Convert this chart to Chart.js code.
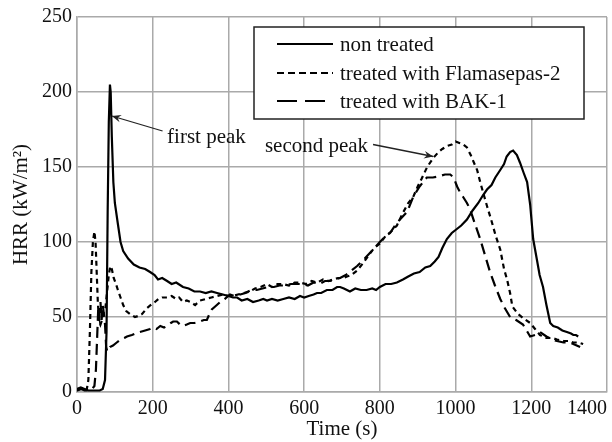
<!DOCTYPE html>
<html>
<head>
<meta charset="utf-8">
<script src="https://cdn.jsdelivr.net/npm/chart.js@4"></script>
<style>
html,body{margin:0;padding:0;background:#fff;}
#wrap{width:612px;height:442px;position:relative;}
</style>
</head>
<body>
<div id="wrap"><canvas id="c" width="612" height="442"></canvas></div>
<script>
// ---- data (time in s, HRR in kW/m2) ----
const tNon = [0,10,20,30,40,50,60,68,74,78,81,84,87,89,92,96,100,108,115,122,135,150,165,180,193,205,214,225,238,250,262,280,295,310,325,340,355,370,385,400,412,423,435,450,465,480,492,502,515,530,545,560,575,589,600,612,625,634,645,660,675,687,695,705,721,735,750,765,780,790,800,815,830,845,861,875,890,905,920,933,945,955,965,977,990,1000,1015,1030,1045,1060,1072,1083,1095,1105,1118,1128,1135,1144,1152,1162,1170,1180,1189,1197,1205,1215,1222,1231,1240,1250,1258,1270,1282,1294,1305,1311,1318,1324];
const vNon = [2,3,2,1,1,1,1,2,8,40,120,180,205,200,170,140,126,112,100,94,89,85,83,82,80,78,75,76,74,72,73,70,69,67,67,66,67,66,65,64,63,63,61,62,60,61,62,61,62,61,62,63,62,64,63,64,65,66,66,68,68,70,70,69,67,69,68,68,69,68,70,72,72,73,75,77,79,80,83,84,87,90,96,102,106,108,111,115,121,126,131,135,138,143,148,152,157,160,161,158,153,146,140,125,102,88,78,70,58,46,44,43,41,40,39,38,38,37];

const tFla = [0,10,20,26,30,34,38,42,46,49,52,55,58,62,66,70,75,80,84,88,92,97,103,108,115,122,130,140,153,165,172,185,195,206,215,225,238,250,262,270,280,290,300,312,325,340,355,370,385,400,412,425,440,457,470,485,502,515,530,544,560,575,589,605,620,635,650,665,676,690,705,713,725,740,756,770,785,800,815,830,845,860,875,888,900,910,925,941,955,965,977,990,1000,1010,1020,1030,1040,1050,1057,1065,1075,1083,1095,1105,1118,1128,1136,1144,1150,1165,1180,1197,1210,1223,1240,1255,1268,1285,1300,1311,1325,1337];
const vFla = [1,2,1,2,8,40,80,100,107,100,80,60,48,45,48,52,56,68,78,84,82,76,72,68,63,58,54,52,50,51,52,56,58,60,62,63,63,64,62,63,60,61,60,58,61,62,63,64,65,64,64,65,66,67,69,70,72,70,72,72,71,73,73,72,74,73,75,74,75,76,76,77,78,81,86,91,96,99,104,107,111,119,126,130,137,142,150,156,160,162,164,165,167,166,165,163,158,152,148,140,131,124,114,105,95,82,75,66,57,52,49,46,42,38,36,36,35,34,34,33,33,32];

const tBak = [0,10,20,30,40,46,50,53,56,59,62,65,68,71,74,77,80,87,95,105,115,125,132,145,155,166,180,193,201,210,220,230,238,248,254,264,272,280,290,299,310,325,335,343,350,356,365,378,390,404,415,431,445,460,475,490,505,520,535,550,565,580,595,610,625,640,655,668,680,695,710,725,740,760,782,800,815,827,840,853,872,888,905,924,940,959,972,986,995,1004,1012,1020,1030,1038,1050,1065,1078,1091,1104,1118,1130,1144,1160,1178,1190,1197,1210,1223,1240,1255,1268,1285,1300,1311,1329];
const vBak = [1,2,1,1,2,4,15,35,55,50,60,48,58,52,45,30,27,30,31,33,35,36,37,38,39,40,41,42,43,42,44,43,44,46,47,47,45,44,45,46,46,47,48,48,52,55,57,60,62,65,64,65,66,68,68,69,70,70,71,71,72,72,72,71,73,72,74,74,75,76,78,81,84,89,95,100,104,106,111,115,120,130,137,143,143,144,145,145,143,137,133,130,126,122,113,102,91,80,71,62,56,50,48,45,40,37,38,40,37,35,34,33,33,32,30];

const seriesNames = ['non treated', 'treated with Flamasepas-2', 'treated with BAK-1'];
const xTicks = [0,200,400,600,800,1000,1200,1400];
const yTicks = [0,50,100,150,200,250];

// annotations: text anchor and arrow (data coordinates)
const annFirst = {text:'first peak', tx:238, ty:170, fromX:226, fromY:174, toX:92, toY:184};
const annSecond = {text:'second peak', tx:769, ty:164, fromX:782, fromY:165, toX:941, toY:157};

const toPts = (t,v) => t.map((x,i)=>({x:x,y:v[i]}));
const FONT = "'Liberation Serif', 'Times New Roman', serif";

const legendPlugin = {
  id:'boxLegend',
  afterDatasetsDraw(chart){
    const ctx = chart.ctx;
    ctx.save();
    // box
    const bx=254, by=27, bw=330, bh=92;
    ctx.fillStyle='#fff';
    ctx.fillRect(bx,by,bw,bh);
    ctx.strokeStyle='#222'; ctx.lineWidth=1.5; ctx.setLineDash([]);
    ctx.strokeRect(bx,by,bw,bh);
    const rows=[44,73,101];
    chart.data.datasets.forEach((ds,i)=>{
      ctx.strokeStyle='#000';
      ctx.lineWidth=2.2;
      ctx.setLineDash(i===0?[]:(i===1?[7,4]:[20,8]));
      ctx.beginPath(); ctx.moveTo(277,rows[i]); ctx.lineTo(333,rows[i]); ctx.stroke();
      ctx.setLineDash([]);
      ctx.fillStyle='#111';
      ctx.font="21px "+FONT;
      ctx.textBaseline='middle'; ctx.textAlign='left';
      ctx.fillText(seriesNames[i],340,rows[i]+1);
    });
    // annotations
    const xs=chart.scales.x, ys=chart.scales.y;
    const drawAnn=(a,align)=>{
      ctx.font="21px "+FONT; ctx.fillStyle='#111';
      ctx.textBaseline='middle'; ctx.textAlign=align;
      ctx.fillText(a.text, xs.getPixelForValue(a.tx), ys.getPixelForValue(a.ty));
      const x1=xs.getPixelForValue(a.fromX), y1=ys.getPixelForValue(a.fromY);
      const x2=xs.getPixelForValue(a.toX), y2=ys.getPixelForValue(a.toY);
      ctx.strokeStyle='#222'; ctx.lineWidth=1.3;
      ctx.beginPath(); ctx.moveTo(x1,y1); ctx.lineTo(x2,y2); ctx.stroke();
      const ang=Math.atan2(y2-y1,x2-x1), L=10, W=0.4;
      ctx.fillStyle='#222';
      ctx.beginPath();
      ctx.moveTo(x2,y2);
      ctx.lineTo(x2-L*Math.cos(ang-W), y2-L*Math.sin(ang-W));
      ctx.lineTo(x2-L*0.6*Math.cos(ang), y2-L*0.6*Math.sin(ang));
      ctx.lineTo(x2-L*Math.cos(ang+W), y2-L*Math.sin(ang+W));
      ctx.closePath(); ctx.fill();
    };
    drawAnn(annFirst,'left');
    drawAnn(annSecond,'right');
    ctx.restore();
  }
};

new Chart(document.getElementById('c'), {
  type:'line',
  data:{
    datasets:[
      {label:seriesNames[0], data:toPts(tNon,vNon), borderColor:'#000', borderWidth:2.2, pointRadius:0, tension:0, fill:false},
      {label:seriesNames[1], data:toPts(tFla,vFla), borderColor:'#000', borderWidth:2.2, borderDash:[5,4], pointRadius:0, tension:0, fill:false},
      {label:seriesNames[2], data:toPts(tBak,vBak), borderColor:'#000', borderWidth:2.2, borderDash:[11,6], pointRadius:0, tension:0, fill:false}
    ]
  },
  options:{
    responsive:false,
    animation:false,
    devicePixelRatio:1,
    layout:{padding:{top:17,right:5,left:0,bottom:0}},
    plugins:{legend:{display:false}, tooltip:{enabled:false}},
    scales:{
      x:{
        type:'linear', min:0, max:1400,
        afterBuildTicks:(s)=>{ s.ticks = xTicks.map(v=>({value:v})); },
        ticks:{
          font:{family:FONT,size:20}, color:'#111', padding:5, maxRotation:0, autoSkip:false,
          callback:(v)=> v===1400 ? '1400\u2003\u2003' : String(v)
        },
        grid:{color:'#aaa', lineWidth:1.5, drawTicks:false},
        border:{color:'#aaa', width:1.5},
        title:{display:true, text:'Time (s)', font:{family:FONT,size:21}, color:'#111', padding:{top:0,bottom:0}},
        afterFit:(s)=>{ s.height=50; s.paddingLeft=0; s.paddingRight=0; }
      },
      y:{
        min:0, max:250,
        afterBuildTicks:(s)=>{ s.ticks = yTicks.map(v=>({value:v})); },
        ticks:{font:{family:FONT,size:20}, color:'#111', padding:5, autoSkip:false},
        grid:{color:'#aaa', lineWidth:1.5, drawTicks:false},
        border:{color:'#aaa', width:1.5},
        title:{display:true, text:'HRR (kW/m\u00B2)', font:{family:FONT,size:21}, color:'#111', padding:{top:9,bottom:2}},
        afterFit:(s)=>{ s.width=77; s.paddingTop=0; s.paddingBottom=0; }
      }
    }
  },
  plugins:[legendPlugin]
});
</script>
</body>
</html>
